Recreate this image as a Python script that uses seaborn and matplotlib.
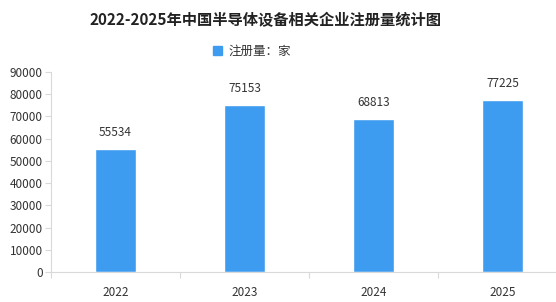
import matplotlib
matplotlib.use("Agg")
import matplotlib.pyplot as plt
import seaborn as sns
import pandas as pd
from matplotlib.patches import Patch

years = ["2022", "2023", "2024", "2025"]
counts = [55534, 75153, 68813, 77225]
yticks = [0, 10000, 20000, 30000, 40000, 50000, 60000, 70000, 80000, 90000]
title = "2022-2025年中国半导体设备相关企业注册量统计图"
legend_label = "注册量：家"

sns.set_theme(style="white")
plt.rcParams['font.family'] = ['Noto Sans CJK SC', 'DejaVu Sans']

df = pd.DataFrame({"year": years, "count": counts})

fig = plt.figure(figsize=(5.56, 3.02), dpi=100)
ax = fig.add_axes([51/556, 30/302, 516/556, 200/302])
color = "#3d9cf0"
sns.barplot(data=df, x="year", y="count", color=color, width=0.32, ax=ax,
            saturation=1)

ax.set_ylim(0, 90000)
ax.set_xlim(-0.5, 3.5)
ax.set_yticks(yticks)
ax.set_yticklabels([str(v) for v in yticks], fontsize=8.5, color="#333333")
ax.set_xticks(range(len(years)))
ax.set_xticklabels(years, fontsize=8.5, color="#333333")
ax.set_xlabel("")
ax.set_ylabel("")

for sp in ["top", "right"]:
    ax.spines[sp].set_visible(False)
for sp in ["left", "bottom"]:
    ax.spines[sp].set_color("#d9d9d9")
    ax.spines[sp].set_linewidth(0.8)

ax.tick_params(axis="y", length=4, color="#d9d9d9", width=0.8, pad=2, left=True)
ax.tick_params(axis="x", length=0, pad=10, bottom=True)
# category boundary ticks
ax.set_xticks([-0.5, 0.5, 1.5, 2.5, 3.5], minor=True)
ax.tick_params(axis="x", which="minor", length=4, color="#d9d9d9", width=0.8, bottom=True)

for i, v in enumerate(counts):
    ax.text(i, v + 4500, str(v), ha="center", va="bottom", fontsize=8.5, color="#333333")

fig.text(266/556, 1 - 20/302, title, ha="center", va="center", fontsize=11,
         fontweight="bold", color="#222222")
leg = fig.legend(handles=[Patch(facecolor=color, edgecolor=color)], labels=[legend_label],
                 loc="center", bbox_to_anchor=(252/556, 1 - 51/302), frameon=False,
                 fontsize=9, handlelength=0.7, handleheight=0.7, handletextpad=0.5)
for t in leg.get_texts():
    t.set_color("#333333")

fig.savefig("out.png", dpi=100)
